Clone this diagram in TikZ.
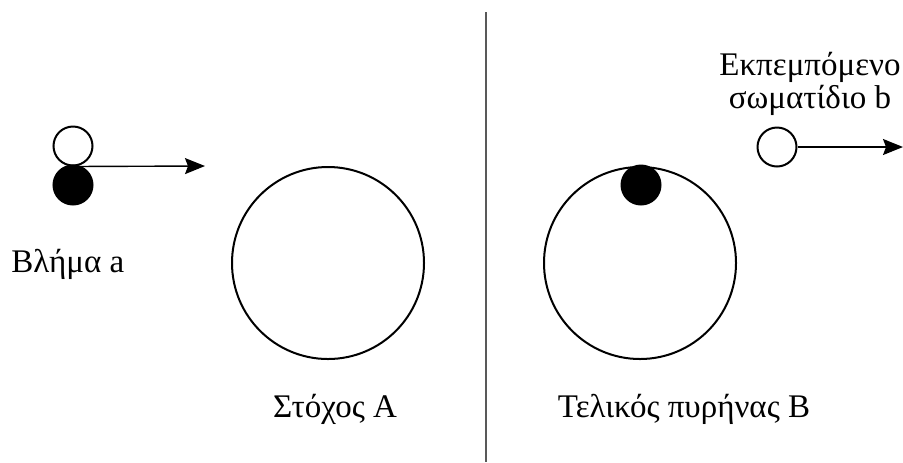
\documentclass[tikz,border=0pt]{standalone}
\usepackage{fontspec}
\setmainfont{Liberation Serif}
\usetikzlibrary{arrows.meta}

\tikzset{
  particle/.style={circle, draw, line width=1pt, minimum size=19.5pt, inner sep=0pt},
  nucleus/.style={circle, draw, line width=1pt, minimum size=96pt, inner sep=0pt},
  motion/.style={line width=0.7pt, -{Stealth[length=10pt, width=8pt, inset=1.5pt]}},
  lbl/.style={font=\fontsize{16.5}{15}\selectfont, inner sep=0pt}
}

\begin{document}
\begin{tikzpicture}[x=0.5pt, y=-0.5pt]
  \useasboundingbox (0,0) rectangle (903,462);
  % left side: projectile hitting target
  \node[particle, fill=white] (proj) at (73,146) {};
  \node[particle, fill=black] (projcore) at (73,185) {};
  \coordinate (aim) at (205,166);
  \draw[motion] (proj.south) -- (aim);
  \node[nucleus] (target) at (328,263) {};
  \node[lbl, anchor=base west] (projlbl) at (11,272) {Βλήμα a};
  \node[lbl, anchor=base] (targetlbl) at (335,417) {Στόχος Α};
  % separator
  \draw[line width=1pt, gray!70!black] (486,12) -- (486,462);
  % right side: final nucleus and emitted particle
  \node[nucleus] (final) at (640,263) {};
  \node[particle, fill=black] (captured) at (641,185) {};
  \node[lbl, anchor=base] (finallbl) at (684,417) {Τελικός πυρήνας Β};
  \node[particle, fill=white] (emit) at (777,147) {};
  \coordinate (away) at (903,147);
  \draw[motion] (emit.east) -- (away);
  \node[lbl, align=center, anchor=north] (emitlbl) at (810,52) {Εκπεμπόμενο\\σωματίδιο b};
\end{tikzpicture}
\end{document}
